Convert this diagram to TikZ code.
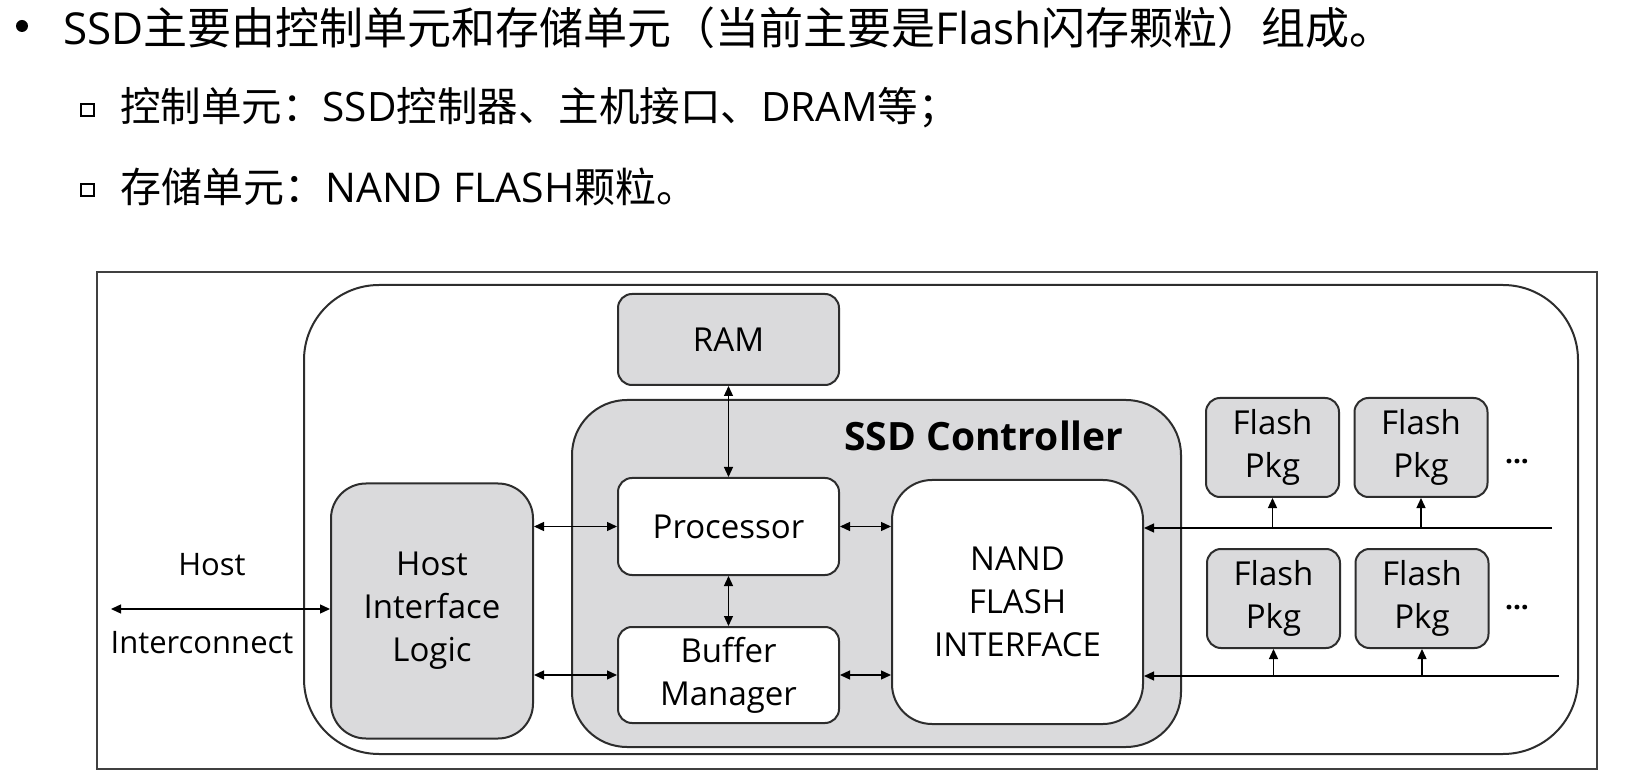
\documentclass[tikz,border=0pt]{standalone}
\usepackage{fontspec}
\setmainfont{Open Sans}
\newfontfamily\cjk{Noto Sans CJK SC}
\usetikzlibrary{arrows.meta}
\definecolor{boxgray}{RGB}{218,218,220}
\definecolor{edgegray}{RGB}{45,45,45}
\tikzset{
  block/.style={draw=edgegray, line width=2pt, rounded corners=14pt, fill=boxgray, align=center, inner sep=0pt, font=\fontsize{33}{43}\selectfont},
  whiteblock/.style={block, fill=white},
  flashpkg/.style={block, minimum width=133pt, minimum height=99pt},
  biarrow/.style={line width=1.3pt, {Triangle[length=10pt,width=9pt]}-{Triangle[length=10pt,width=9pt]}},
  uniarrow/.style={line width=1.3pt, -{Triangle[length=10pt,width=9pt]}},
  headline/.style={anchor=base west, inner sep=0pt},
  plainlabel/.style={inner sep=0pt, font=\fontsize{31}{38}\selectfont}
}

\begin{document}
\begin{tikzpicture}[x=1pt, y=-1pt]
  \useasboundingbox (0,0) rectangle (1634,783);

  % bullet text
  \fill (22,26) circle (6);
  \node[headline, font=\fontsize{44}{50}\selectfont] (line1) at (63,45)
    {SSD{\cjk 主要由控制单元和存储单元（当前主要是}Flash{\cjk 闪存颗粒）组成。}};
  \draw[line width=2.2pt] (81,104) rectangle (94,116);
  \node[headline, font=\fontsize{40.5}{46}\selectfont] (line2) at (120,122)
    {{\cjk 控制单元：}SSD{\cjk 控制器、主机接口、}DRAM{\cjk 等；}};
  \draw[line width=2.2pt] (81,184) rectangle (94,196);
  \node[headline, font=\fontsize{41}{46}\selectfont] (line3) at (120,203)
    {{\cjk 存储单元：}NAND FLASH{\cjk 颗粒。}};

  % frames
  \draw[line width=2.2pt, draw=black!75] (97,272) rectangle (1597,769);
  \node[block, fill=white, rounded corners=75pt, minimum width=1274pt, minimum height=469pt] (ssd) at (941,519.5) {};
  \node[block, rounded corners=55pt, minimum width=609pt, minimum height=347pt] (ctrl) at (876.5,573.5) {};
  \node[inner sep=0pt, font=\bfseries\fontsize{39}{44}\selectfont] (ctrltitle) at (984,436) {SSD Controller};

  % blocks
  \node[block, minimum width=221pt, minimum height=91pt] (ram) at (728.5,339.5) {RAM};
  \node[whiteblock, minimum width=221pt, minimum height=97pt] (proc) at (728.5,526.5) {Processor};
  \node[whiteblock, minimum width=221pt, minimum height=96pt] (buf) at (728.5,675) {Buffer\\Manager};
  \node[whiteblock, rounded corners=40pt, minimum width=251pt, minimum height=244pt] (nand) at (1017.5,602) {NAND\\FLASH\\INTERFACE};
  \node[block, rounded corners=35pt, minimum width=202pt, minimum height=255pt] (hil) at (432,611) {Host\\Interface\\Logic};

  \node[flashpkg] (f1) at (1272.5,447.5) {Flash\\Pkg};
  \node[flashpkg] (f2) at (1421,447.5) {Flash\\Pkg};
  \node[flashpkg] (f3) at (1273.5,598.5) {Flash\\Pkg};
  \node[flashpkg] (f4) at (1422,598.5) {Flash\\Pkg};
  \node[inner sep=0pt, font=\bfseries\fontsize{28}{34}\selectfont] (dotsA) at (1517,462) {...};
  \node[inner sep=0pt, font=\bfseries\fontsize{28}{34}\selectfont] (dotsB) at (1517,608) {...};

  % host side
  \coordinate (hostend) at (111,609);
  \node[plainlabel] (hostlbl) at (212,565) {Host};
  \node[plainlabel] (iclbl) at (202,643) {Interconnect};
  \draw[biarrow] (hostend) -- (hil.west |- hostend);

  % links
  \draw[biarrow] (hil.east |- proc.west) -- (proc.west);
  \draw[biarrow] (hil.east |- buf.west) -- (buf.west);
  \draw[biarrow] (proc.east) -- (nand.west |- proc.east);
  \draw[biarrow] (buf.east) -- (nand.west |- buf.east);
  \draw[biarrow] (ram.south) -- (proc.north);
  \draw[biarrow] (proc.south) -- (buf.north);

  % flash channels
  \coordinate (busA) at (1552,528);
  \coordinate (busB) at (1559,676);
  \draw[uniarrow] (busA) -- (nand.east |- busA);
  \draw[uniarrow] (busB) -- (nand.east |- busB);
  \draw[uniarrow] (f1.south |- busA) -- (f1.south);
  \draw[uniarrow] (f2.south |- busA) -- (f2.south);
  \draw[uniarrow] (f3.south |- busB) -- (f3.south);
  \draw[uniarrow] (f4.south |- busB) -- (f4.south);
\end{tikzpicture}
\end{document}
